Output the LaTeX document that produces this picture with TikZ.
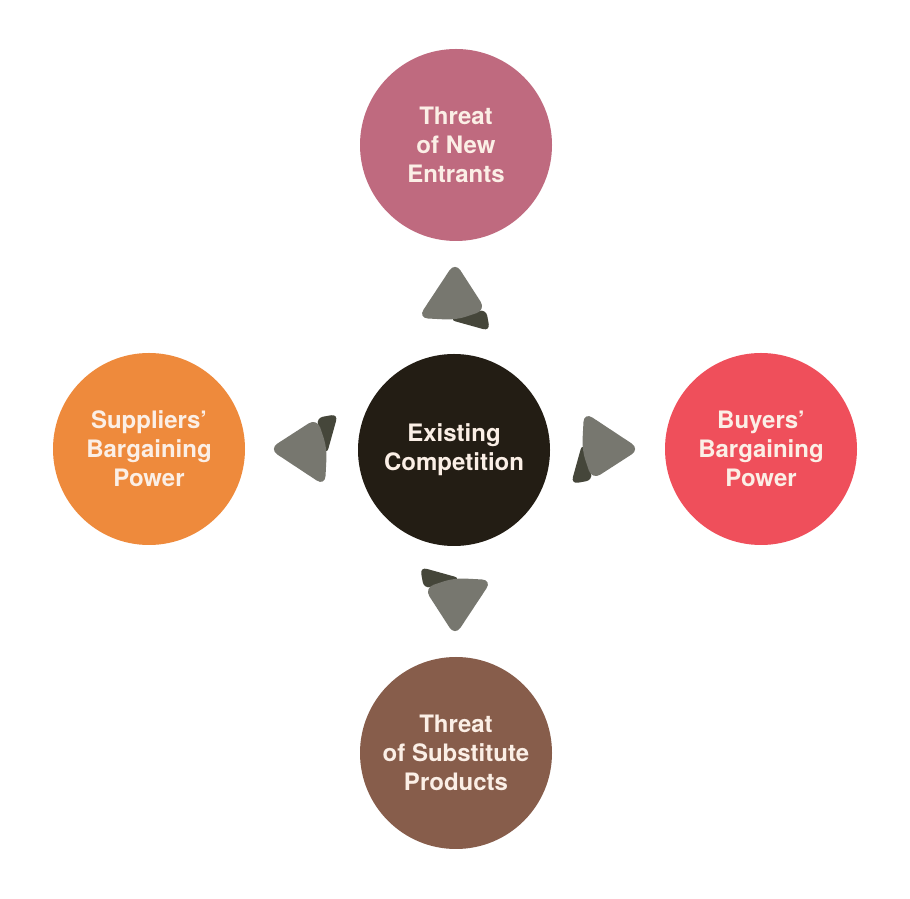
\documentclass[tikz,border=0pt]{standalone}
\usepackage{fontspec}
\setmainfont{TeX Gyre Heros}
\definecolor{cTop}{HTML}{BF6A7F}
\definecolor{cMid}{HTML}{231D14}
\definecolor{cLeft}{HTML}{EE8A3C}
\definecolor{cRight}{HTML}{EF4F5B}
\definecolor{cBot}{HTML}{875D4B}
\definecolor{cArrow}{HTML}{77776F}
\definecolor{cFold}{HTML}{45463A}
\definecolor{cText}{HTML}{FBEFE6}
\tikzset{
  force/.style={circle, minimum size=96pt, inner sep=0pt, text=cText,
    font=\fontsize{12}{14.5}\selectfont\bfseries, align=center},
  pics/fold arrow/.style={code={
    \fill[cFold, rounded corners=3.5pt] (-6,-21.6) -- (31,-11) -- (35,-33) -- cycle;
    \fill[cArrow, rounded corners=5pt] (0,36) -- (-37,-20) -- (1,-22) -- (31,-12) -- cycle;
  }}
}
\begin{document}
\begin{tikzpicture}[x=0.5pt,y=0.5pt]
\useasboundingbox[fill=white] (0,0) rectangle (910,899);
\node[force, fill=cTop] (entrants) at (456,754) {Threat\\of New\\Entrants};
\node[force, fill=cMid] (rivalry) at (454,449) {Existing\\Competition};
\node[force, fill=cLeft] (suppliers) at (149,450) {Suppliers’\\Bargaining\\Power};
\node[force, fill=cRight] (buyers) at (761,450) {Buyers’\\Bargaining\\Power};
\node[force, fill=cBot] (substitutes) at (456,146) {Threat\\of Substitute\\Products};
\pic[rotate=0] at (455,601) {fold arrow};
\pic[rotate=90] at (305,450) {fold arrow};
\pic[rotate=-90] at (604,450) {fold arrow};
\pic[rotate=180] at (455,299) {fold arrow};
\end{tikzpicture}
\end{document}
